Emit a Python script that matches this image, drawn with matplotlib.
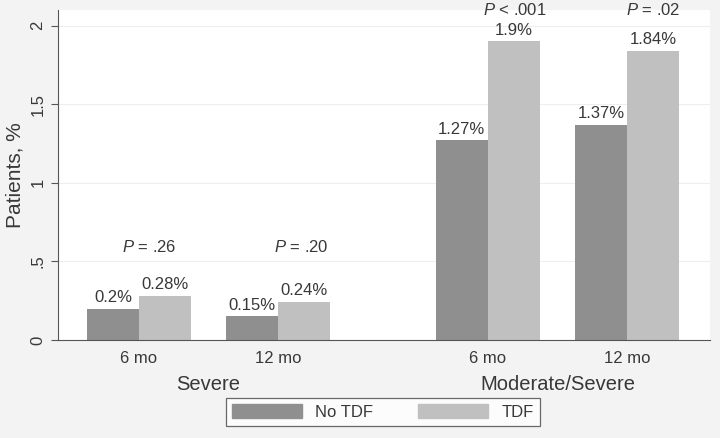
import matplotlib
matplotlib.use('Agg')
import matplotlib.pyplot as plt
from matplotlib.patches import Patch

# data
groups = ['Severe', 'Moderate/Severe']
periods = ['6 mo', '12 mo', '6 mo', '12 mo']
no_tdf = [0.20, 0.15, 1.27, 1.37]
tdf = [0.28, 0.24, 1.90, 1.84]
no_tdf_labels = ['0.2%', '0.15%', '1.27%', '1.37%']
tdf_labels = ['0.28%', '0.24%', '1.9%', '1.84%']
p_texts = [('=', '.26'), ('=', '.20'), ('<', '.001'), ('=', '.02')]
p_heights = [0.59, 0.59, 2.10, 2.10]
p_shift = [0.07, 0.17, 0.19, 0.19]

plt.rcParams['font.family'] = ['Liberation Sans', 'DejaVu Sans']
plt.rcParams['mathtext.fontset'] = 'custom'
plt.rcParams['mathtext.it'] = 'Liberation Sans:italic'
plt.rcParams['mathtext.rm'] = 'Liberation Sans'
txt = '#383838'
c_no, c_tdf = '#8f8f8f', '#c0c0c0'

fig = plt.figure(figsize=(7.2, 4.38), dpi=100, facecolor='#f3f3f3')
ax = fig.add_axes([58/720, 1-340/438, (710-58)/720, (340-10)/438])
ax.set_facecolor('white')

centers = [0, 1, 2.51, 3.51]
w = 0.375
ax.bar([c - w/2 for c in centers], no_tdf, w, color=c_no, zorder=2)
ax.bar([c + w/2 for c in centers], tdf, w, color=c_tdf, zorder=2)

for c, v, l in zip(centers, no_tdf, no_tdf_labels):
    ax.text(c - w/2, v + 0.025, l, ha='center', va='bottom', fontsize=12, color=txt)
for c, v, l in zip(centers, tdf, tdf_labels):
    ax.text(c + w/2, v + 0.025, l, ha='center', va='bottom', fontsize=12, color=txt)
for c, (op, pv), h, s in zip(centers, p_texts, p_heights, p_shift):
    ax.text(c + s, h, f'$P$ {op} {pv}', ha='center', va='center', fontsize=12,
            color=txt, clip_on=False)

ax.set_ylim(0, 2.10)
ax.set_xlim(-0.583, 4.108)
ax.set_yticks([0, 0.5, 1, 1.5, 2])
ax.set_yticklabels(['0', '.5', '1', '1.5', '2'], rotation=90, va='center')
ax.tick_params(axis='y', length=5, color='#555555', labelsize=12, labelcolor=txt, pad=4)
ax.set_xticks([])
ax.grid(axis='y', color='#eeeeee', linewidth=0.8, zorder=0)
for s in ['top', 'right']:
    ax.spines[s].set_visible(False)
ax.spines['left'].set_color('#555555')
ax.spines['bottom'].set_color('#555555')
ax.set_ylabel('Patients, %', fontsize=15, color=txt, labelpad=4)

for c, p in zip(centers, periods):
    ax.text(c, -0.12, p, ha='center', va='center', fontsize=12, color=txt)
ax.text((centers[0] + centers[1]) / 2, -0.28, groups[0], ha='center', va='center',
        fontsize=14.5, color=txt)
ax.text((centers[2] + centers[3]) / 2, -0.28, groups[1], ha='center', va='center',
        fontsize=14.5, color=txt)

handles = [Patch(color=c_no, label='No TDF'), Patch(color=c_tdf, label='TDF')]
leg = fig.legend(handles=handles, loc='center', bbox_to_anchor=(383/720, 1-412/438),
                 ncol=2, frameon=True, fancybox=False, fontsize=12,
                 handlelength=4.2, handleheight=0.95, handletextpad=0.8,
                 columnspacing=2.7, borderpad=0.35, borderaxespad=0,
                 edgecolor='#444444')
leg.get_frame().set_linewidth(0.9)
for t in leg.get_texts():
    t.set_color(txt)

fig.savefig('out.png', dpi=100, facecolor=fig.get_facecolor())
